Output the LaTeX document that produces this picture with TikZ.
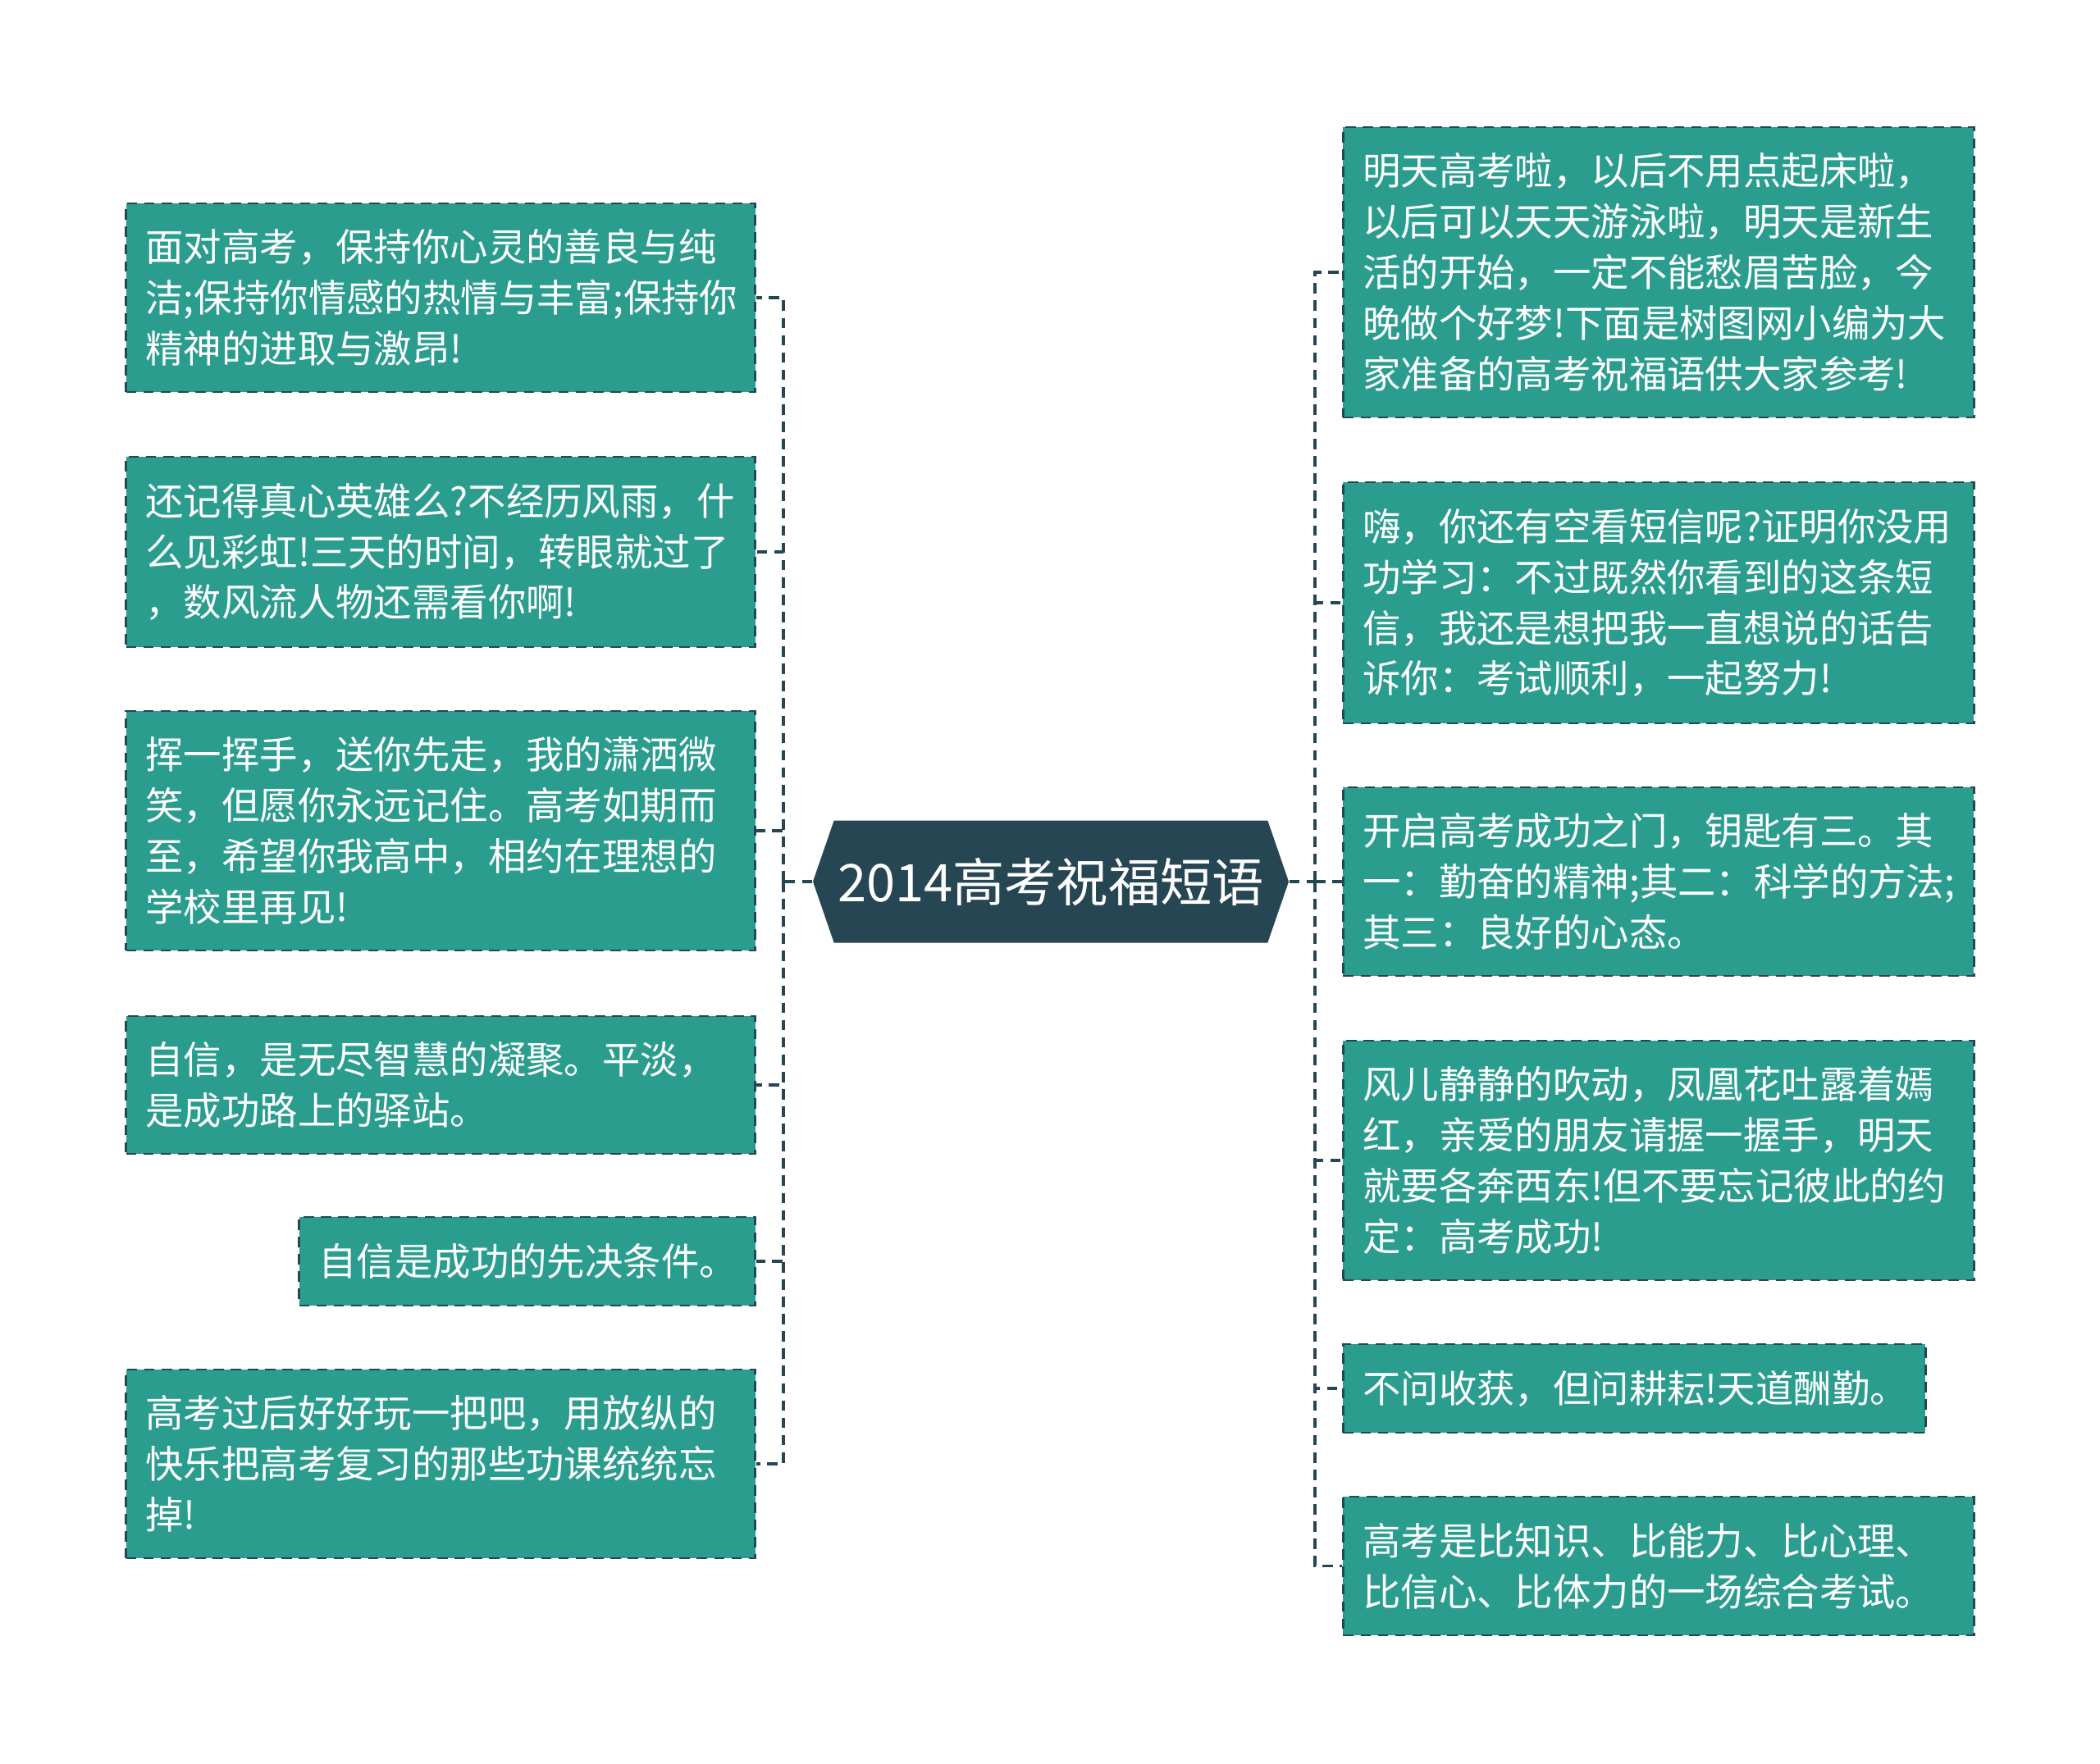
\documentclass[tikz,border=0pt]{standalone}
\usepackage{fontspec}
\setmainfont{Noto Sans CJK SC}
\usetikzlibrary{shapes.symbols}
\definecolor{leafteal}{HTML}{2A9D8F}
\definecolor{inkdark}{HTML}{264653}

\begin{document}
\begin{tikzpicture}[x=1cm,y=1cm,font=\fontsize{13.2pt}{17.6pt}\selectfont,
  leaf/.style={rectangle,fill=leafteal,draw=inkdark,line width=.8pt,dash pattern=on 3.6pt off 2.4pt,
    text=white,align=left,text width=7.19cm,inner xsep=.24cm,inner ysep=0pt},
  hub/.style={signal,signal to=west and east,signal pointer angle=142,fill=inkdark,text=white,
    font=\fontsize{18pt}{22pt}\selectfont,minimum height=1.49cm,minimum width=5.8cm,inner sep=0pt},
  link/.style={draw=inkdark,line width=.9pt,dash pattern=on 3.6pt off 2.4pt}]
  \useasboundingbox (0,0) rectangle (25.6,-21.51);
  \node[hub] (hub) at (12.81,-10.75) {2014高考祝福短语};
  \coordinate (lj) at (9.55,-10.75);
  \coordinate (rj) at (16.03,-10.75);
  % left side
  \node[leaf,anchor=east,minimum height=2.30cm] (l1) at (9.22,-3.63)
    {面对高考，保持你心灵的善良与纯\\洁;保持你情感的热情与丰富;保持你\\精神的进取与激昂!};
  \node[leaf,anchor=east,minimum height=2.32cm] (l2) at (9.22,-6.73)
    {还记得真心英雄么?不经历风雨，什\\么见彩虹!三天的时间，转眼就过了\\，数风流人物还需看你啊!};
  \node[leaf,anchor=east,minimum height=2.92cm] (l3) at (9.22,-10.13)
    {挥一挥手，送你先走，我的潇洒微\\笑，但愿你永远记住。高考如期而\\至，希望你我高中，相约在理想的\\学校里再见!};
  \node[leaf,anchor=east,minimum height=1.68cm] (l4) at (9.22,-13.23)
    {自信，是无尽智慧的凝聚。平淡，\\是成功路上的驿站。};
  \node[leaf,anchor=east,minimum height=1.08cm,text width=5.08cm] (l5) at (9.22,-15.38)
    {自信是成功的先决条件。};
  \node[leaf,anchor=east,minimum height=2.30cm] (l6) at (9.22,-17.85)
    {高考过后好好玩一把吧，用放纵的\\快乐把高考复习的那些功课统统忘\\掉!};
  % right side
  \node[leaf,anchor=west,minimum height=3.54cm,text width=7.21cm] (r1) at (16.36,-3.32)
    {明天高考啦，以后不用点起床啦，\\以后可以天天游泳啦，明天是新生\\活的开始，一定不能愁眉苦脸，今\\晚做个好梦!下面是树图网小编为大\\家准备的高考祝福语供大家参考!};
  \node[leaf,anchor=west,minimum height=2.94cm,text width=7.21cm] (r2) at (16.36,-7.35)
    {嗨，你还有空看短信呢?证明你没用\\功学习：不过既然你看到的这条短\\信，我还是想把我一直想说的话告\\诉你：考试顺利，一起努力!};
  \node[leaf,anchor=west,minimum height=2.30cm,text width=7.21cm] (r3) at (16.36,-10.75)
    {开启高考成功之门，钥匙有三。其\\一：勤奋的精神;其二：科学的方法;\\其三：良好的心态。};
  \node[leaf,anchor=west,minimum height=2.92cm,text width=7.21cm] (r4) at (16.36,-14.15)
    {风儿静静的吹动，凤凰花吐露着嫣\\红，亲爱的朋友请握一握手，明天\\就要各奔西东!但不要忘记彼此的约\\定：高考成功!};
  \node[leaf,anchor=west,minimum height=1.08cm,text width=6.62cm] (r5) at (16.36,-16.93)
    {不问收获，但问耕耘!天道酬勤。};
  \node[leaf,anchor=west,minimum height=1.69cm,text width=7.21cm] (r6) at (16.36,-19.095)
    {高考是比知识、比能力、比心理、\\比信心、比体力的一场综合考试。};
  % connectors
  \draw[link] (hub.west) -- (lj);
  \draw[link] (hub.east) -- (rj);
  \foreach \n in {l1,l2,l3,l4,l5,l6}
    \draw[link] (lj) |- (\n.east);
  \foreach \n in {r1,r2,r3,r4,r5,r6}
    \draw[link] (rj) |- (\n.west);
\end{tikzpicture}
\end{document}
